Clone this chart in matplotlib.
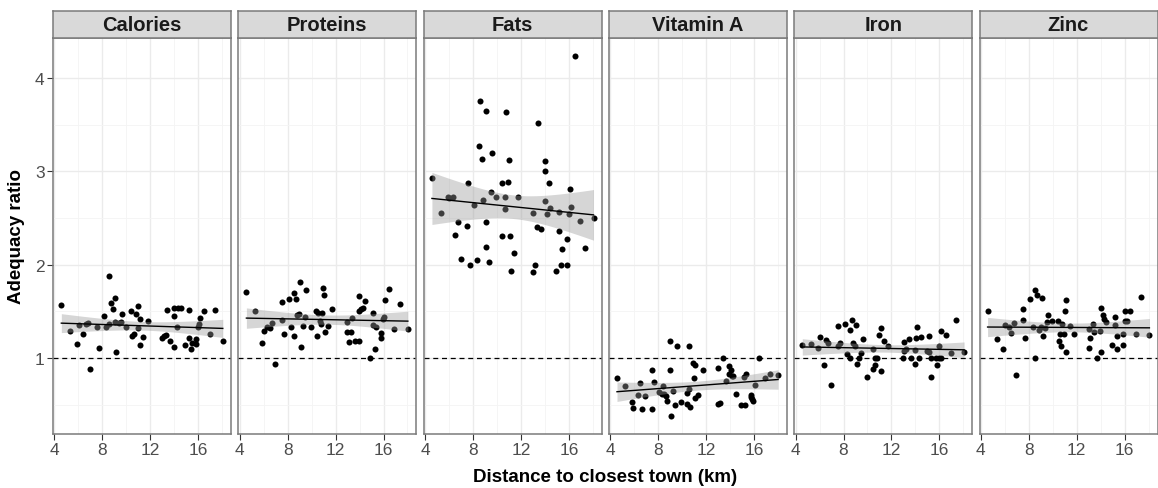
import numpy as np
import matplotlib
matplotlib.use("Agg")
import matplotlib.pyplot as plt
from matplotlib.ticker import FixedLocator

plt.rcParams['font.family'] = ['Liberation Sans', 'DejaVu Sans']

panels = ["Calories", "Proteins", "Fats", "Vitamin A", "Iron", "Zinc"]

cal_x = [4.58, 5.33, 5.91, 6.04, 6.40, 6.60, 6.79, 6.98, 7.56, 7.72, 8.11, 8.33, 8.52, 8.58, 8.72,
         8.85, 9.07, 9.05, 9.16, 9.35, 9.54, 9.60, 9.96, 10.42, 10.51, 10.64, 10.78, 10.95, 11.00,
         11.11, 11.14, 11.39, 11.77, 13.01, 13.12, 13.29, 13.43, 13.65, 13.95, 13.98, 14.00, 14.23,
         14.31, 14.53, 14.91, 15.19, 15.25, 15.38, 15.49, 15.85, 15.80, 16.02, 16.04, 16.15, 16.51,
         16.95, 17.39, 18.05]
cal_y = [1.57, 1.29, 1.15, 1.35, 1.26, 1.36, 1.38, 0.88, 1.33, 1.11, 1.45, 1.33, 1.88, 1.37, 1.59,
         1.53, 1.64, 1.39, 1.06, 1.38, 1.39, 1.47, 1.33, 1.50, 1.24, 1.26, 1.47, 1.32, 1.56,
         1.42, 1.14, 1.23, 1.40, 1.22, 1.24, 1.25, 1.52, 1.18, 1.45, 1.12, 1.54, 1.33,
         1.54, 1.54, 1.14, 1.52, 1.21, 1.10, 1.16, 1.20, 1.15, 1.33, 1.36, 1.43, 1.50,
         1.26, 1.52, 1.18]

pro_x = [4.56, 5.27, 5.88, 6.02, 6.32, 6.51, 6.73, 6.93, 7.50, 7.53, 7.70, 8.08, 8.30, 8.50, 8.52,
         8.66, 8.77, 9.02, 8.96, 9.13, 9.29, 9.46, 9.54, 9.93, 10.40, 10.42, 10.53, 10.70, 10.86,
         10.95, 11.03, 10.78, 11.09, 11.33, 11.72, 12.96, 12.96, 13.12, 13.32, 13.40, 13.65, 13.95,
         13.95, 13.92, 14.14, 14.25, 14.45, 14.89, 15.14, 15.11, 15.33, 15.38, 15.77, 15.77, 15.99,
         16.02, 16.10, 16.46, 16.90, 17.37, 18.03]
pro_y = [1.71, 1.50, 1.16, 1.29, 1.33, 1.32, 1.38, 0.94, 1.60, 1.41, 1.26, 1.63, 1.33, 1.70, 1.24,
         1.63, 1.46, 1.82, 1.47, 1.12, 1.34, 1.44, 1.73, 1.33, 1.50, 1.24, 1.48, 1.40, 1.48,
         1.75, 1.68, 1.37, 1.28, 1.34, 1.53, 1.39, 1.28, 1.17, 1.28, 1.43, 1.18, 1.67,
         1.18, 1.50, 1.53, 1.54, 1.61, 1.00, 1.48, 1.35, 1.10, 1.33, 1.27, 1.21, 1.42,
         1.44, 1.62, 1.74, 1.31, 1.58, 1.31]

fat_x = [4.58, 5.33, 5.91, 6.04, 6.37, 6.54, 6.73, 6.98, 7.53, 7.56, 7.72, 8.11, 8.33, 8.52, 8.58,
         8.72, 8.83, 9.05, 9.07, 9.13, 9.32, 9.49, 9.60, 9.96, 10.45, 10.45, 10.64, 10.67, 10.78,
         10.92, 11.03, 11.11, 11.14, 11.42, 11.77, 13.01, 13.04, 13.15, 13.37, 13.43, 13.65, 13.98,
         13.98, 14.01, 14.17, 14.31, 14.47, 14.94, 15.16, 15.19, 15.44, 15.38, 15.82, 15.82, 15.99,
         16.07, 16.15, 16.51, 16.93, 17.39, 18.06]
fat_y = [2.93, 2.55, 2.73, 2.71, 2.73, 2.32, 2.46, 2.06, 2.41, 2.87, 2.00, 2.64, 2.05, 3.27, 3.75,
         3.13, 2.69, 2.46, 3.65, 2.19, 2.03, 2.78, 3.20, 2.73, 2.31, 2.87, 2.60, 2.73, 3.63,
         2.89, 3.12, 2.31, 1.93, 2.12, 2.73, 2.55, 1.92, 2.00, 2.40, 3.52, 2.38, 2.68,
         3.00, 3.11, 2.54, 2.88, 2.61, 1.93, 2.36, 2.56, 2.17, 2.00, 2.27, 2.00, 2.54,
         2.81, 2.62, 4.24, 2.47, 2.18, 2.50]

vita_x = [4.56, 5.25, 5.82, 5.93, 6.32, 6.48, 6.68, 6.90, 7.48, 7.50, 7.67, 8.06, 8.28, 8.44, 8.50,
          8.63, 8.74, 8.99, 9.02, 9.07, 9.27, 9.43, 9.54, 9.90, 10.40, 10.37, 10.53, 10.59, 10.67,
          10.87, 11.06, 11.00, 11.06, 11.33, 11.72, 12.96, 13.01, 13.18, 13.37, 13.62, 13.92, 14.06,
          13.90, 14.14, 14.25, 14.45, 14.89, 15.25, 15.14, 15.30, 15.74, 15.77, 15.85, 15.91, 16.07,
          16.43, 16.87, 17.31, 18.00]
vita_y = [0.79, 0.70, 0.53, 0.47, 0.60, 0.73, 0.46, 0.59, 0.46, 0.87, 0.74, 0.64, 0.62, 0.70, 0.62,
          0.59, 0.54, 0.87, 1.18, 0.38, 0.65, 0.50, 1.13, 0.53, 0.51, 0.63, 1.13, 0.67, 0.48,
          0.95, 0.93, 0.79, 0.57, 0.60, 0.87, 0.89, 0.51, 0.52, 1.00, 0.75, 0.92, 0.87,
          0.83, 0.81, 0.81, 0.62, 0.50, 0.50, 0.80, 0.83, 0.60, 0.58, 0.56, 0.54, 0.71,
          1.00, 0.79, 0.83, 0.82]

iron_x = [4.56, 5.30, 5.91, 6.02, 6.37, 6.54, 6.73, 6.95, 7.53, 7.53, 7.72, 8.14, 8.30, 8.50, 8.55,
          8.69, 8.80, 9.05, 8.99, 9.13, 9.29, 9.49, 9.60, 9.96, 10.45, 10.48, 10.59, 10.64, 10.78,
          10.92, 11.09, 11.11, 11.39, 11.75, 12.99, 13.01, 13.07, 13.23, 13.43, 13.67, 13.95, 13.95,
          14.01, 14.17, 14.28, 14.47, 14.94, 15.14, 15.16, 15.33, 15.33, 15.71, 15.80, 15.96, 15.99,
          16.13, 16.15, 16.51, 16.93, 17.39, 18.06]
iron_y = [1.14, 1.15, 1.11, 1.23, 0.93, 1.19, 1.16, 0.71, 1.34, 1.13, 1.16, 1.37, 1.04, 1.30, 1.00,
          1.41, 1.16, 1.35, 1.13, 0.94, 1.00, 1.05, 1.20, 0.80, 1.10, 0.88, 1.00, 0.93, 1.00,
          1.25, 0.86, 1.32, 1.18, 1.13, 1.00, 1.08, 1.17, 1.10, 1.20, 1.00, 0.94, 1.09,
          1.22, 1.33, 1.00, 1.23, 1.08, 1.07, 1.24, 0.80, 1.00, 1.00, 0.93, 1.00, 1.13,
          1.00, 1.29, 1.25, 1.05, 1.41, 1.06]

zinc_x = [4.56, 5.33, 5.88, 6.04, 6.37, 6.54, 6.76, 6.95, 7.53, 7.53, 7.72, 8.11, 8.33, 8.50, 8.55,
          8.72, 8.83, 9.07, 9.02, 9.16, 9.32, 9.52, 9.60, 9.96, 10.45, 10.48, 10.67, 10.73, 10.64,
          10.92, 11.00, 11.11, 11.11, 11.42, 11.77, 13.01, 13.10, 13.04, 13.37, 13.45, 13.70, 13.98,
          13.95, 13.98, 14.17, 14.28, 14.45, 14.94, 15.16, 15.16, 15.36, 15.36, 15.82, 15.82, 15.99,
          16.04, 16.15, 16.48, 16.90, 17.39, 18.06]
zinc_y = [1.50, 1.20, 1.10, 1.35, 1.33, 1.27, 1.38, 0.82, 1.53, 1.41, 1.21, 1.63, 1.33, 1.73, 1.00,
          1.68, 1.30, 1.64, 1.33, 1.24, 1.32, 1.39, 1.46, 1.40, 1.40, 1.18, 1.13, 1.37, 1.26,
          1.26, 1.50, 1.62, 1.07, 1.34, 1.26, 1.11, 1.22, 1.31, 1.37, 1.28, 1.00, 1.06,
          1.29, 1.54, 1.46, 1.42, 1.39, 1.14, 1.44, 1.35, 1.24, 1.10, 1.26, 1.14, 1.40,
          1.50, 1.40, 1.50, 1.26, 1.65, 1.25]

series = [(cal_x, cal_y), (pro_x, pro_y), (fat_x, fat_y),
          (vita_x, vita_y), (iron_x, iron_y), (zinc_x, zinc_y)]

x_ticks = [4, 8, 12, 16]
x_minor = [6, 10, 14, 18]
y_ticks = [1, 2, 3, 4]
y_minor = [0.5, 1.5, 2.5, 3.5]
ref_line = 1.0

# shared scales with ggplot-like 5% expansion
all_x = np.concatenate([np.asarray(s[0]) for s in series])
all_y = np.concatenate([np.asarray(s[1]) for s in series])
xr = all_x.max() - all_x.min()
yr = all_y.max() - all_y.min()
xlim = (all_x.min() - 0.05 * xr, all_x.max() + 0.05 * xr)
ylim = (all_y.min() - 0.05 * yr, all_y.max() + 0.05 * yr)

W, H = 1158, 489
fig = plt.figure(figsize=(W / 100, H / 100), dpi=100)

left0 = 53
pw = 178
gap = 185.3
ptop = 38.5
pbot = 435
strip_top = 11.5

border_col = '#7a7a7a'
tick_col = '#4d4d4d'

for i, (name, (xs, ys)) in enumerate(zip(panels, series)):
    xs = np.asarray(xs, float)
    ys = np.asarray(ys, float)
    lx = left0 + i * gap
    ax = fig.add_axes([lx / W, 1 - pbot / H, pw / W, (pbot - ptop) / H])
    ax.set_xlim(*xlim)
    ax.set_ylim(*ylim)
    ax.xaxis.set_major_locator(FixedLocator(x_ticks))
    ax.xaxis.set_minor_locator(FixedLocator(x_minor))
    ax.yaxis.set_major_locator(FixedLocator(y_ticks))
    ax.yaxis.set_minor_locator(FixedLocator(y_minor))
    ax.grid(which='major', color='#ebebeb', linewidth=1.0, zorder=0)
    ax.grid(which='minor', color='#f4f4f4', linewidth=0.6, zorder=0)
    ax.set_axisbelow(True)
    for sp in ax.spines.values():
        sp.set_color(border_col)
        sp.set_linewidth(1.1)
    ax.tick_params(which='minor', length=0)
    ax.tick_params(which='major', direction='out', length=4, width=0.8, color='#333333',
                   labelsize=12.5, labelcolor=tick_col, pad=2)
    if i > 0:
        ax.tick_params(axis='y', labelleft=False, length=0)

    ax.axhline(ref_line, color='black', linestyle=(0, (4, 3)), linewidth=0.9, zorder=2)
    ax.scatter(xs, ys, s=19, color='black', linewidths=0, zorder=3)

    # linear fit with 95% confidence band
    n = len(xs)
    b, a = np.polyfit(xs, ys, 1)
    resid = ys - (a + b * xs)
    s_err = np.sqrt(np.sum(resid ** 2) / (n - 2))
    xbar = xs.mean()
    sxx = np.sum((xs - xbar) ** 2)
    xg = np.linspace(xs.min(), xs.max(), 80)
    yg = a + b * xg
    se = s_err * np.sqrt(1.0 / n + (xg - xbar) ** 2 / sxx)
    tval = 2.0
    ax.fill_between(xg, yg - tval * se, yg + tval * se, color='#999999', alpha=0.4,
                    linewidth=0, zorder=4)
    ax.plot(xg, yg, color='black', linewidth=1.0, zorder=5)

    # strip
    sax = fig.add_axes([lx / W, 1 - ptop / H, pw / W, (ptop - strip_top) / H])
    sax.set_facecolor('#d9d9d9')
    sax.set_xticks([])
    sax.set_yticks([])
    for sp in sax.spines.values():
        sp.set_color(border_col)
        sp.set_linewidth(1.1)
    sax.text(0.5, 0.47, name, ha='center', va='center', fontsize=14.5,
             fontweight='bold', color='#1a1a1a', transform=sax.transAxes)

fig.text(17 / W, 1 - ((ptop + pbot) / 2) / H, 'Adequacy ratio', rotation=90,
         ha='center', va='center', fontsize=13.5, fontweight='bold')
fig.text(605 / W, 1 - 478 / H, 'Distance to closest town (km)',
         ha='center', va='center', fontsize=13.5, fontweight='bold')

fig.savefig('out.png', dpi=100)
